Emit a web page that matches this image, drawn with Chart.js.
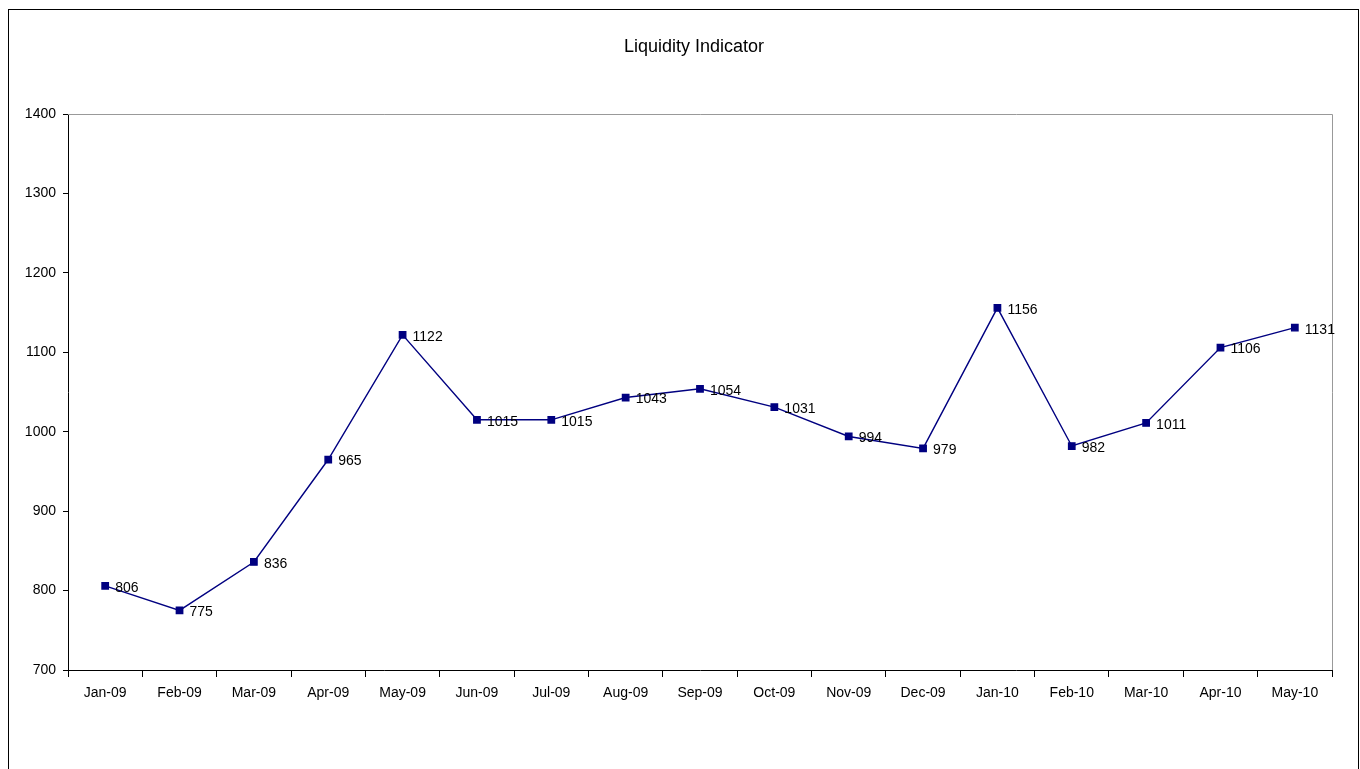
<!DOCTYPE html>
<html>
<head>
<meta charset="utf-8">
<title>Liquidity Indicator</title>
<script src="https://cdn.jsdelivr.net/npm/chart.js@4"></script>
<style>
  html, body { margin: 0; padding: 0; background: #fff; }
  #wrap { width: 1360px; height: 769px; position: relative; }
</style>
</head>
<body>
<div id="wrap"><canvas id="myChart" width="1360" height="769"></canvas></div>
<script>
const months = ['Jan-09', 'Feb-09', 'Mar-09', 'Apr-09', 'May-09', 'Jun-09', 'Jul-09', 'Aug-09', 'Sep-09',
    'Oct-09', 'Nov-09', 'Dec-09', 'Jan-10', 'Feb-10', 'Mar-10', 'Apr-10', 'May-10'];
const liquidity = [806, 775, 836, 965, 1122, 1015, 1015, 1043, 1054, 1031, 994, 979, 1156, 982, 1011, 1106, 1131];
const yMin = 700;
const yMax = 1400;
const yStep = 100;

const fontFamily = '"Liberation Sans Narrow", "Liberation Sans", Arial, sans-serif';

// frame, title, plot border and point labels
const decorPlugin = {
    id: 'decor',
    afterDraw(chart) {
        const ctx = chart.ctx;
        const area = chart.chartArea;
        ctx.save();
        // outer frame
        ctx.strokeStyle = '#000';
        ctx.lineWidth = 1;
        ctx.strokeRect(8.5, 9.5, 1350, 800);
        // top and right edges of plot area
        ctx.strokeStyle = '#999';
        ctx.beginPath();
        ctx.moveTo(area.left, Math.round(area.top) + 0.5);
        ctx.lineTo(Math.round(area.right) + 0.5, Math.round(area.top) + 0.5);
        ctx.lineTo(Math.round(area.right) + 0.5, area.bottom);
        ctx.stroke();
        // title
        ctx.fillStyle = '#000';
        ctx.font = '18px ' + fontFamily;
        ctx.textAlign = 'center';
        ctx.textBaseline = 'middle';
        ctx.fillText('Liquidity Indicator', 694, 47);
        // value labels
        ctx.font = '14px ' + fontFamily;
        ctx.textAlign = 'left';
        const meta = chart.getDatasetMeta(0);
        meta.data.forEach((pt, i) => {
            ctx.fillText(String(liquidity[i]), pt.x + 10, pt.y + 2);
        });
        ctx.restore();
    }
};

const ctx = document.getElementById('myChart').getContext('2d');
const myChart = new Chart(ctx, {
    type: 'line',
    data: {
        labels: months,
        datasets: [{
            label: 'Liquidity Indicator',
            data: liquidity,
            borderColor: '#000080',
            backgroundColor: '#000080',
            borderWidth: 1.4,
            pointStyle: 'rect',
            pointRadius: 4.5,
            pointHoverRadius: 4.5,
            tension: 0
        }]
    },
    options: {
        responsive: false,
        animation: false,
        layout: { padding: { top: 114, right: 28, left: 0, bottom: 0 } },
        plugins: {
            legend: { display: false },
            title: { display: false },
            tooltip: { enabled: false }
        },
        scales: {
            x: {
                offset: true,
                afterFit: (s) => { s.height = 99; },
                grid: { offset: true, drawOnChartArea: false, tickLength: 7, color: '#000' },
                border: { color: '#000' },
                ticks: { color: '#000', font: { family: fontFamily, size: 14 }, padding: 8, maxRotation: 0, autoSkip: false }
            },
            y: {
                min: yMin,
                max: yMax,
                afterFit: (s) => { s.width = 68; },
                grid: { drawOnChartArea: false, tickLength: 5, color: '#000' },
                border: { color: '#000' },
                ticks: {
                    stepSize: yStep,
                    color: '#000',
                    font: { family: fontFamily, size: 14 },
                    padding: 7,
                    callback: (v) => String(v)
                }
            }
        }
    },
    plugins: [decorPlugin]
});
</script>
</body>
</html>
